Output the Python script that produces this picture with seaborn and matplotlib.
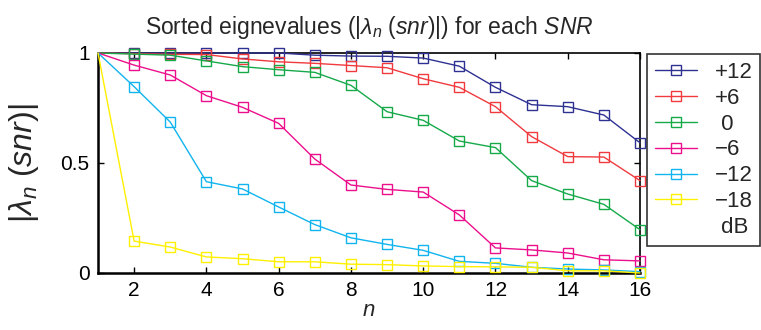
import numpy as np
import pandas as pd
import matplotlib
matplotlib.use("Agg")
import matplotlib.pyplot as plt
from matplotlib.lines import Line2D
import seaborn as sns

n_values = list(range(1, 17))
snr_labels = ["+12", "+6", " 0", "\u22126", "\u221212", "\u221218"]
ev_p12 = [1.0, 1.0, 1.0, 1.0, 1.0, 1.0, 0.99, 0.986, 0.985, 0.977, 0.94, 0.844, 0.765, 0.756, 0.718, 0.592]
ev_p6 = [1.0, 0.997, 0.994, 0.993, 0.973, 0.96, 0.953, 0.943, 0.933, 0.883, 0.844, 0.756, 0.62, 0.529, 0.527, 0.42]
ev_0 = [1.0, 0.995, 0.99, 0.964, 0.938, 0.924, 0.912, 0.853, 0.733, 0.694, 0.60, 0.57, 0.42, 0.359, 0.312, 0.197]
ev_m6 = [1.0, 0.945, 0.90, 0.806, 0.753, 0.68, 0.518, 0.40, 0.38, 0.368, 0.264, 0.114, 0.105, 0.091, 0.06, 0.055]
ev_m12 = [1.0, 0.847, 0.686, 0.415, 0.382, 0.30, 0.22, 0.16, 0.13, 0.103, 0.053, 0.044, 0.026, 0.018, 0.014, 0.006]
ev_m18 = [1.0, 0.145, 0.118, 0.073, 0.065, 0.051, 0.051, 0.04, 0.038, 0.032, 0.029, 0.028, 0.026, 0.01, 0.01, 0.0]
series = [ev_p12, ev_p6, ev_0, ev_m6, ev_m12, ev_m18]
colors = ["#2e3192", "#f03a3e", "#16a94a", "#ec0f8c", "#11b4ee", "#fff000"]

sns.set_style("ticks")
plt.rcParams["font.family"] = ["Liberation Sans", "DejaVu Sans"]
plt.rcParams["mathtext.fontset"] = "custom"
plt.rcParams["mathtext.rm"] = "Liberation Sans"
plt.rcParams["mathtext.it"] = "Liberation Sans:italic"
plt.rcParams["mathtext.bf"] = "Liberation Sans:bold"

frames = []
for lab, vals in zip(snr_labels, series):
    frames.append(pd.DataFrame({"n": n_values, "ev": vals, "snr": lab}))
df = pd.concat(frames, ignore_index=True)

fig = plt.figure(figsize=(7.61, 3.30), dpi=100)
ax = fig.add_axes([98 / 761, 1 - 273 / 330, 542 / 761, 220 / 330])

for lab, col in zip(snr_labels, colors):
    sub = df[df["snr"] == lab]
    sns.lineplot(data=sub, x="n", y="ev", ax=ax, color=col, linewidth=1.0,
                 marker="s", markersize=7, markerfacecolor="none",
                 markeredgecolor=col, markeredgewidth=1.0, label=lab,
                 markevery=list(range(1, 16)), clip_on=False)

ax.set_xlim(1, 16)
ax.set_ylim(0, 1)
ax.set_xticks([2, 4, 6, 8, 10, 12, 14, 16])
ax.set_yticks([0, 0.5, 1])
ax.set_yticklabels(["0", "0.5", "1"])
ax.tick_params(direction="in", top=True, right=True, labelsize=15, length=4,
               width=1, colors="black", pad=6)
for s in ax.spines.values():
    s.set_visible(True)
    s.set_color("black")
    s.set_linewidth(1.2)
    s.set_zorder(0.5)
ax.spines["left"].set_linewidth(1.8)
ax.spines["bottom"].set_linewidth(1.8)

ax.set_xlabel(r"$n$", fontsize=16, labelpad=0)
ax.set_ylabel(r"$|\lambda_n\ (snr)|$", fontsize=23, labelpad=14)
ax.set_title(r"Sorted eignevalues ($|\lambda_n\ (\mathit{snr})|$) for each $\mathit{SNR}$",
             fontsize=16.5, pad=14)

handles, labels = ax.get_legend_handles_labels()
handles.append(Line2D([], [], linestyle="none", marker=None))
labels.append(" dB")
leg = ax.legend(handles, labels, loc="upper left", bbox_to_anchor=(647 / 761, 1 - 54 / 330),
                bbox_transform=fig.transFigure, frameon=True, fontsize=16,
                handlelength=1.9, handletextpad=0.8, labelspacing=0.22,
                borderpad=0.35, borderaxespad=0, fancybox=False)
leg.get_frame().set_edgecolor("black")
leg.get_frame().set_linewidth(1.2)

fig.savefig("out.png", dpi=100)
